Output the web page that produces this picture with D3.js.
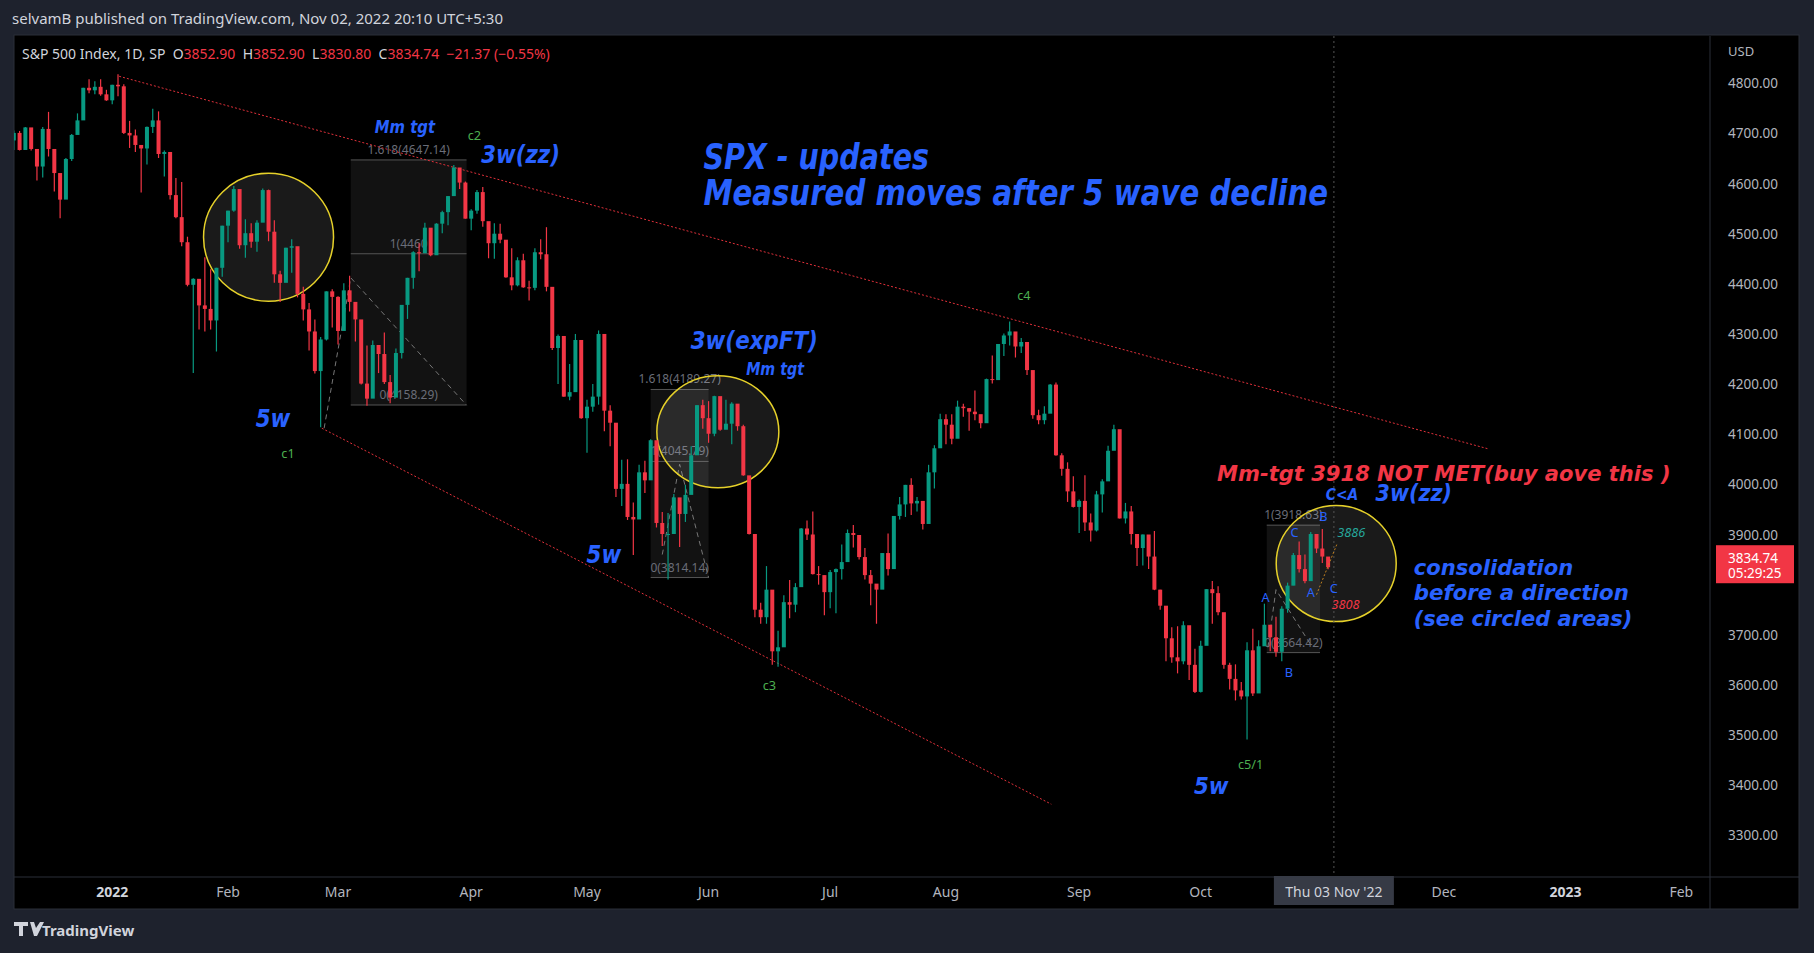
<!DOCTYPE html>
<html><head><meta charset="utf-8">
<script src="https://cdn.jsdelivr.net/npm/d3@7"></script>
<style>html,body{margin:0;padding:0;background:#1e222d;overflow:hidden}</style>
</head><body><svg id="c" width="1814" height="953"></svg>
<script>
// ---- data (trading days from 2021-12-03) ----
const closes=[4538,4591,4686,4701,4667,4712,4669,4634,4709,4669,4621,4568,4649,4697,4726,4791,4786,4793,4778,4766,
4797,4794,4701,4696,4677,4670,4713,4726,4659,4663,4577,4533,4483,4398,4410,4357,4350,4327,4432,4516,
4546,4589,4477,4501,4484,4522,4587,4504,4419,4402,4472,4475,4380,4349,4305,4226,4289,4385,4374,
4306,4387,4364,4329,4201,4171,4278,4260,4204,4173,4262,4358,4412,4463,4461,4512,4457,4520,4543,4575,4632,4602,4530,
4546,4583,4525,4481,4500,4488,4413,4397,4447,4393,4392,4463,4459,4394,4272,4296,4175,4184,4288,4132,
4155,4175,4300,4147,4123,3991,4001,3935,3930,4024,4008,4088,3923,3901,3901,3974,3941,3979,4058,4158,4132,
4101,4176,4109,4121,4161,4116,4018,3901,3750,3735,3790,3667,3675,3765,3760,3795,3912,3900,3821,3819,3785,
3825,3831,3845,3903,3899,3855,3819,3802,3790,3863,3831,3937,3960,3999,3962,3967,3921,4024,4072,4130,
4119,4091,4155,4152,4145,4140,4122,4210,4208,4280,4297,4305,4275,4284,4228,4138,4128,4141,4199,4058,4031,3986,3955,
3967,3924,3908,3980,4006,4067,4110,3932,3946,3901,3873,3900,3856,3790,3758,3693,3655,3647,3719,3640,3586,
3678,3791,3783,3745,3640,3612,3589,3577,3669,3583,3677,3720,3695,3666,3752,3798,3859,3831,3807,3901,3872,
3856,3834.74];
const highs=[4608,4612,4694,4706,4705,4713,4710,4660,4713,4743,4666,4591,4651,4699,4740,4791,4808,4804,4808,4787,
4797,4818,4798,4725,4708,4673,4714,4749,4744,4666,4632,4611,4603,4494,4411,4409,4453,4429,4432,4516,
4546,4595,4542,4529,4521,4527,4590,4588,4527,4426,4472,4489,4456,4394,4362,4329,4294,4385,4389,
4375,4401,4416,4343,4327,4277,4287,4268,4303,4218,4271,4358,4412,4465,4481,4522,4501,4521,4546,4575,4637,4627,4604,
4549,4587,4593,4504,4521,4520,4464,4471,4453,4460,4406,4471,4489,4513,4385,4299,4278,4240,4300,4270,
4169,4200,4307,4271,4158,4081,4049,4050,3964,4039,4047,4090,4062,3945,3943,3981,3955,3999,4076,4158,4169,
4166,4177,4143,4169,4164,4160,4119,3973,3839,3764,3837,3733,3708,3779,3809,3803,3913,3928,3946,3837,3818,
3829,3832,3880,3910,3919,3886,3873,3829,3796,3863,3902,3937,3975,3999,4012,3975,3954,4039,4078,4141,
4140,4140,4167,4161,4152,4187,4138,4211,4257,4280,4301,4325,4302,4292,4266,4194,4149,4156,4200,4203,4062,4044,4016,
3970,4018,3942,3987,4010,4077,4119,4060,3963,3957,3880,3900,3877,3907,3790,3727,3715,3717,3727,3687,3672,
3688,3791,3807,3797,3712,3644,3641,3606,3685,3712,3689,3762,3712,3736,3757,3804,3863,3886,3860,3905,3893,
3911,3852.9];
const lows=[4495,4540,4610,4667,4666,4670,4666,4606,4612,4654,4584,4531,4584,4645,4703,4733,4780,4778,4775,4765,
4758,4774,4699,4671,4663,4582,4638,4701,4651,4614,4568,4531,4475,4395,4222,4309,4305,4309,4265,4414,
4483,4544,4470,4452,4472,4464,4548,4485,4402,4364,4430,4422,4373,4327,4267,4221,4114,4287,4313,
4279,4322,4345,4285,4199,4157,4209,4222,4200,4162,4187,4251,4330,4390,4425,4465,4455,4465,4501,4517,4589,4589,4530,
4507,4540,4514,4451,4450,4481,4412,4387,4395,4392,4367,4387,4449,4385,4268,4200,4175,4168,4186,4131,
4063,4145,4159,4106,4076,3975,3957,3929,3859,3938,3983,4034,3914,3877,3810,3909,3875,3925,3985,4077,4111,
4083,4096,4107,4110,4080,4107,4017,3900,3735,3722,3722,3640,3636,3715,3733,3745,3822,3889,3820,3800,3739,
3753,3743,3810,3859,3874,3850,3810,3759,3722,3817,3818,3861,3930,3935,3939,3946,3910,3951,3992,4079,
4080,4080,4107,4135,4107,4128,4112,4181,4201,4225,4256,4277,4253,4262,4218,4131,4120,4120,4148,4057,4017,3965,3954,
3903,3907,3886,3906,3944,4023,4083,3932,3922,3880,3837,3838,3831,3789,3750,3647,3644,3623,3641,3610,3584,
3585,3720,3722,3739,3632,3591,3569,3571,3491,3578,3644,3686,3667,3656,3647,3744,3799,3824,3803,3809,3863,
3843,3830.8];
const startDate="2021-12-03";
const holidays=["2021-12-24","2022-01-17","2022-02-21","2022-04-15","2022-05-30","2022-06-20","2022-07-04","2022-09-05","2022-11-24","2022-12-26","2023-01-02","2023-01-16"];
const priceTicks=[4800,4700,4600,4500,4400,4300,4200,4100,4000,3900,3700,3600,3500,3400,3300];
const timeTicks=[["2022","2022-01-03",true],["Feb","2022-02-01"],["Mar","2022-03-01"],["Apr","2022-04-01"],["May","2022-05-02"],["Jun","2022-06-01"],["Jul","2022-07-01"],["Aug","2022-08-01"],["Sep","2022-09-01"],["Oct","2022-10-03"],["Dec","2022-12-01"],["2023","2023-01-03",true],["Feb","2023-02-01"]];

const fmt=d3.utcFormat("%Y-%m-%d");
const days=[];
for(let d=new Date(startDate+"T00:00:00Z");days.length<300;d=new Date(d.getTime()+864e5)){
  const wd=d.getUTCDay(); if(wd===0||wd===6||holidays.includes(fmt(d)))continue; days.push(fmt(d));}
const idxOf=s=>days.indexOf(s);
const i0=idxOf("2022-01-03");

const S=1814/1568;
const W=1814,H=953;
const plotL=14,plotR=1710,plotT=36,plotB=877;
const x=d3.scaleLinear().domain([i0,idxOf("2022-11-03")]).range([97*S,1153*S]);
const y=d3.scaleLinear().domain([4800,3300]).range([83.3,835.3]);
const svg=d3.select("#c");
const UP="#089981",DN="#f23645",FONT="'Noto Sans',sans-serif",AF="'DejaVu Sans',sans-serif",BLUE="#2962ff";

svg.append("rect").attr("width",W).attr("height",H).attr("fill","#1e222d");
svg.append("rect").attr("x",plotL).attr("y",plotT-1).attr("width",1799-plotL).attr("height",909-plotT+1).attr("fill","#000").attr("stroke","#2a2e39");
svg.append("defs").append("clipPath").attr("id","clip").append("rect").attr("x",plotL).attr("y",plotT).attr("width",plotR-plotL).attr("height",plotB-plotT);
const g=svg.append("g").attr("clip-path","url(#clip)");

svg.append("text").attr("x",12).attr("y",24).attr("fill","#d1d4dc").attr("font-family",FONT).attr("font-size",15).text("selvamB published on TradingView.com, Nov 02, 2022 20:10 UTC+5:30");
const hdr=svg.append("text").attr("x",22).attr("y",59).attr("font-family",FONT).attr("font-size",14);
[["S&P 500 Index, 1D, SP  O","#d1d4dc"],["3852.90","#f23645"],["  H","#d1d4dc"],["3852.90","#f23645"],["  L","#d1d4dc"],["3830.80","#f23645"],["  C","#d1d4dc"],["3834.74  −21.37 (−0.55%)","#f23645"]]
 .forEach(([t,c])=>hdr.append("tspan").attr("fill",c).style("white-space","pre").text(t));

const fibs=[{a:41.2,b:61.2,top:4647.14,mid:4460,bot:4158.29,lt:"1.618(4647.14)",lm:"1(4460",lb:"0(4158.29)"},
 {a:93,b:103,top:4189.27,mid:4045.79,bot:3814.14,lt:"1.618(4189.27)",lm:"1(4045.79)",lb:"0(3814.14)"},
 {a:199.4,b:208.6,top:3918.63,mid:null,bot:3664.42,lt:"1(3918.63)",lm:null,lb:"0(3664.42)"}];
fibs.forEach(f=>{
  const x1=x(i0+f.a),x2=x(i0+f.b);
  g.append("rect").attr("x",x1).attr("y",y(f.top)).attr("width",x2-x1).attr("height",y(f.bot)-y(f.top)).attr("fill","#ffffff").attr("fill-opacity",0.07);
  [f.top,f.mid,f.bot].forEach(v=>{if(v!=null)g.append("line").attr("x1",x1).attr("x2",x2).attr("y1",y(v)).attr("y2",y(v)).attr("stroke","#555").attr("stroke-width",1);});
  const lab=(t,v)=>g.append("text").attr("x",(x1+x2)/2).attr("y",y(v)-6).attr("text-anchor","middle").attr("fill","#6a6d78").attr("font-family",FONT).attr("font-size",12).text(t);
  lab(f.lt,f.top); if(f.lm)lab(f.lm,f.mid); lab(f.lb,f.bot);
});
const dashPaths=[[[36.6,4112],[41.2,4412],[61.2,4158]],[[95,3860],[98,4040],[103,3814]],[[199.6,3675],[201,3790],[207,3680]]];
dashPaths.forEach(p=>g.append("path").attr("d",d3.line().x(d=>x(i0+d[0])).y(d=>y(d[1]))(p)).attr("fill","none").attr("stroke","#777").attr("stroke-dasharray","5,4"));

const circles=[[27,4493,65,64],[104.6,4105,61,56],[211.4,3842,60,58]];
circles.forEach(c=>g.append("ellipse").attr("cx",x(i0+c[0])).attr("cy",y(c[1])).attr("rx",c[2]).attr("ry",c[3]).attr("fill","#ffffff").attr("fill-opacity",0.1).attr("stroke","#e6d12a").attr("stroke-width",1.5));

[[[1.2,4814],[237.6,4071]],[[36.2,4112],[162.2,3362]]].forEach(l=>
  g.append("line").attr("x1",x(i0+l[0][0])).attr("y1",y(l[0][1])).attr("x2",x(i0+l[1][0])).attr("y2",y(l[1][1])).attr("stroke","#e0303a").attr("stroke-width",1).attr("stroke-dasharray","2,2"));

const xc=x(idxOf("2022-11-03"));
g.append("line").attr("x1",xc).attr("x2",xc).attr("y1",plotT).attr("y2",plotB).attr("stroke","#555").attr("stroke-dasharray","2,3");

const bw=4;
closes.forEach((c,i)=>{
  const o=i===0?c:closes[i-1];
  const col=c>=o?UP:DN, cx=x(i);
  g.append("line").attr("x1",cx).attr("x2",cx).attr("y1",y(highs[i])).attr("y2",y(lows[i])).attr("stroke",col).attr("stroke-width",1.2);
  const t=y(Math.max(o,c)),b=y(Math.min(o,c));
  g.append("rect").attr("x",cx-bw/2).attr("y",t).attr("width",bw).attr("height",Math.max(1,b-t)).attr("fill",col);
});
g.append("line").attr("x1",x(i0+208)).attr("y1",y(3780)).attr("x2",x(i0+211.5)).attr("y2",y(3880)).attr("stroke","#c08020").attr("stroke-dasharray","2,2");

svg.append("line").attr("x1",plotR).attr("x2",plotR).attr("y1",plotT).attr("y2",909).attr("stroke","#2a2e39");
svg.append("line").attr("x1",plotL).attr("x2",1799).attr("y1",plotB).attr("y2",plotB).attr("stroke","#2a2e39");
svg.append("text").attr("x",1728).attr("y",56).attr("fill","#b2b5be").attr("font-family",FONT).attr("font-size",13).text("USD");
priceTicks.forEach(p=>svg.append("text").attr("x",1728).attr("y",y(p)+5).attr("fill","#b2b5be").attr("font-family",FONT).attr("font-size",13.5).text(p.toFixed(2)));
const ly=y(3834.74);
svg.append("rect").attr("x",1716).attr("y",ly-22).attr("width",78).attr("height",38).attr("fill","#f23645");
svg.append("text").attr("x",1728).attr("y",ly-4).attr("fill","#fff").attr("font-family",FONT).attr("font-size",13.5).text("3834.74");
svg.append("text").attr("x",1728).attr("y",ly+11).attr("fill","#fff").attr("font-family",FONT).attr("font-size",13.5).text("05:29:25");

timeTicks.forEach(t=>svg.append("text").attr("x",x(idxOf(t[1]))).attr("y",897).attr("text-anchor","middle").attr("fill",t[2]?"#d1d4dc":"#b2b5be").attr("font-weight",t[2]?"bold":"normal").attr("font-family",FONT).attr("font-size",14).text(t[0]));
svg.append("rect").attr("x",xc-60).attr("y",876).attr("width",120).attr("height",29).attr("fill","#363a45");
svg.append("text").attr("x",xc).attr("y",897).attr("text-anchor","middle").attr("fill","#d1d4dc").attr("font-family",FONT).attr("font-size",14).text("Thu 03 Nov '22");

// footer logo
svg.append("path").attr("d","M14 922h14v4h-5v10h-4v-10h-5z M30 922h4l2 6 4-6h4l-7 14h-3z").attr("fill","#d1d4dc");
svg.append("text").attr("x",42).attr("y",936).attr("fill","#d1d4dc").attr("font-family",FONT).attr("font-size",15).attr("font-weight","bold").text("TradingView");

// annotations [text, dx, dy, size, color, anchor, displayWidth]
const anns=[
 ["SPX - updates",608,146,31,BLUE,"start",195],
 ["Measured moves after 5 wave decline",608,177,31,BLUE,"start",540],
 ["Mm tgt",350,115,16,BLUE,"middle",52],
 ["3w(zz)",450,141,22,BLUE,"middle",68],
 ["c2",410,121,11,"#4caf50","middle",0],
 ["5w",236,369,21,BLUE,"middle",30],
 ["c1",249,396,11,"#4caf50","middle",0],
 ["3w(expFT)",652,302,21,BLUE,"middle",110],
 ["Mm tgt",670,324,15,BLUE,"middle",50],
 ["5w",522,487,21,BLUE,"middle",30],
 ["c3",665,596,11,"#4caf50","middle",0],
 ["c4",885,259,11,"#4caf50","middle",0],
 ["Mm-tgt 3918 NOT MET(buy aove this )",1052,416,19,"#f23645","start",392],
 ["C<A",1160,432,14,BLUE,"middle",28],
 ["3w(zz)",1222,433,20,BLUE,"middle",66],
 ["consolidation",1222,497,19,BLUE,"start",138],
 ["before a direction",1222,519,19,BLUE,"start",186],
 ["(see circled areas)",1222,541,19,BLUE,"start",189],
 ["5w",1047,686,20,BLUE,"middle",30],
 ["c5/1",1081,665,11,"#4caf50","middle",0],
 ["A",1094,520,11,BLUE,"middle",0],["B",1114,585,11,BLUE,"middle",0],
 ["A",1133,516,11,BLUE,"middle",0],["C",1119,464,11,BLUE,"middle",0],
 ["B",1144,450,11,BLUE,"middle",0],["C",1153,513,11,BLUE,"middle",0],
 ["3886",1168,464,11,"#26a69a","middle",0],["3808",1163,526,11,"#f23645","middle",0]];
anns.forEach(a=>{
  const big=a[3]>=14;
  const t=svg.append("text").attr("x",a[1]*S).attr("y",a[2]*S).attr("text-anchor",a[5]).attr("fill",a[4])
   .attr("font-family",big?AF:FONT).attr("font-weight",big?"bold":"normal")
   .attr("font-style",(big||a[0].match(/^\d/))?"italic":"normal").attr("font-size",a[3]*S).text(a[0]);
  if(a[6])t.attr("textLength",a[6]*S).attr("lengthAdjust","spacingAndGlyphs");
});
</script></body></html>
